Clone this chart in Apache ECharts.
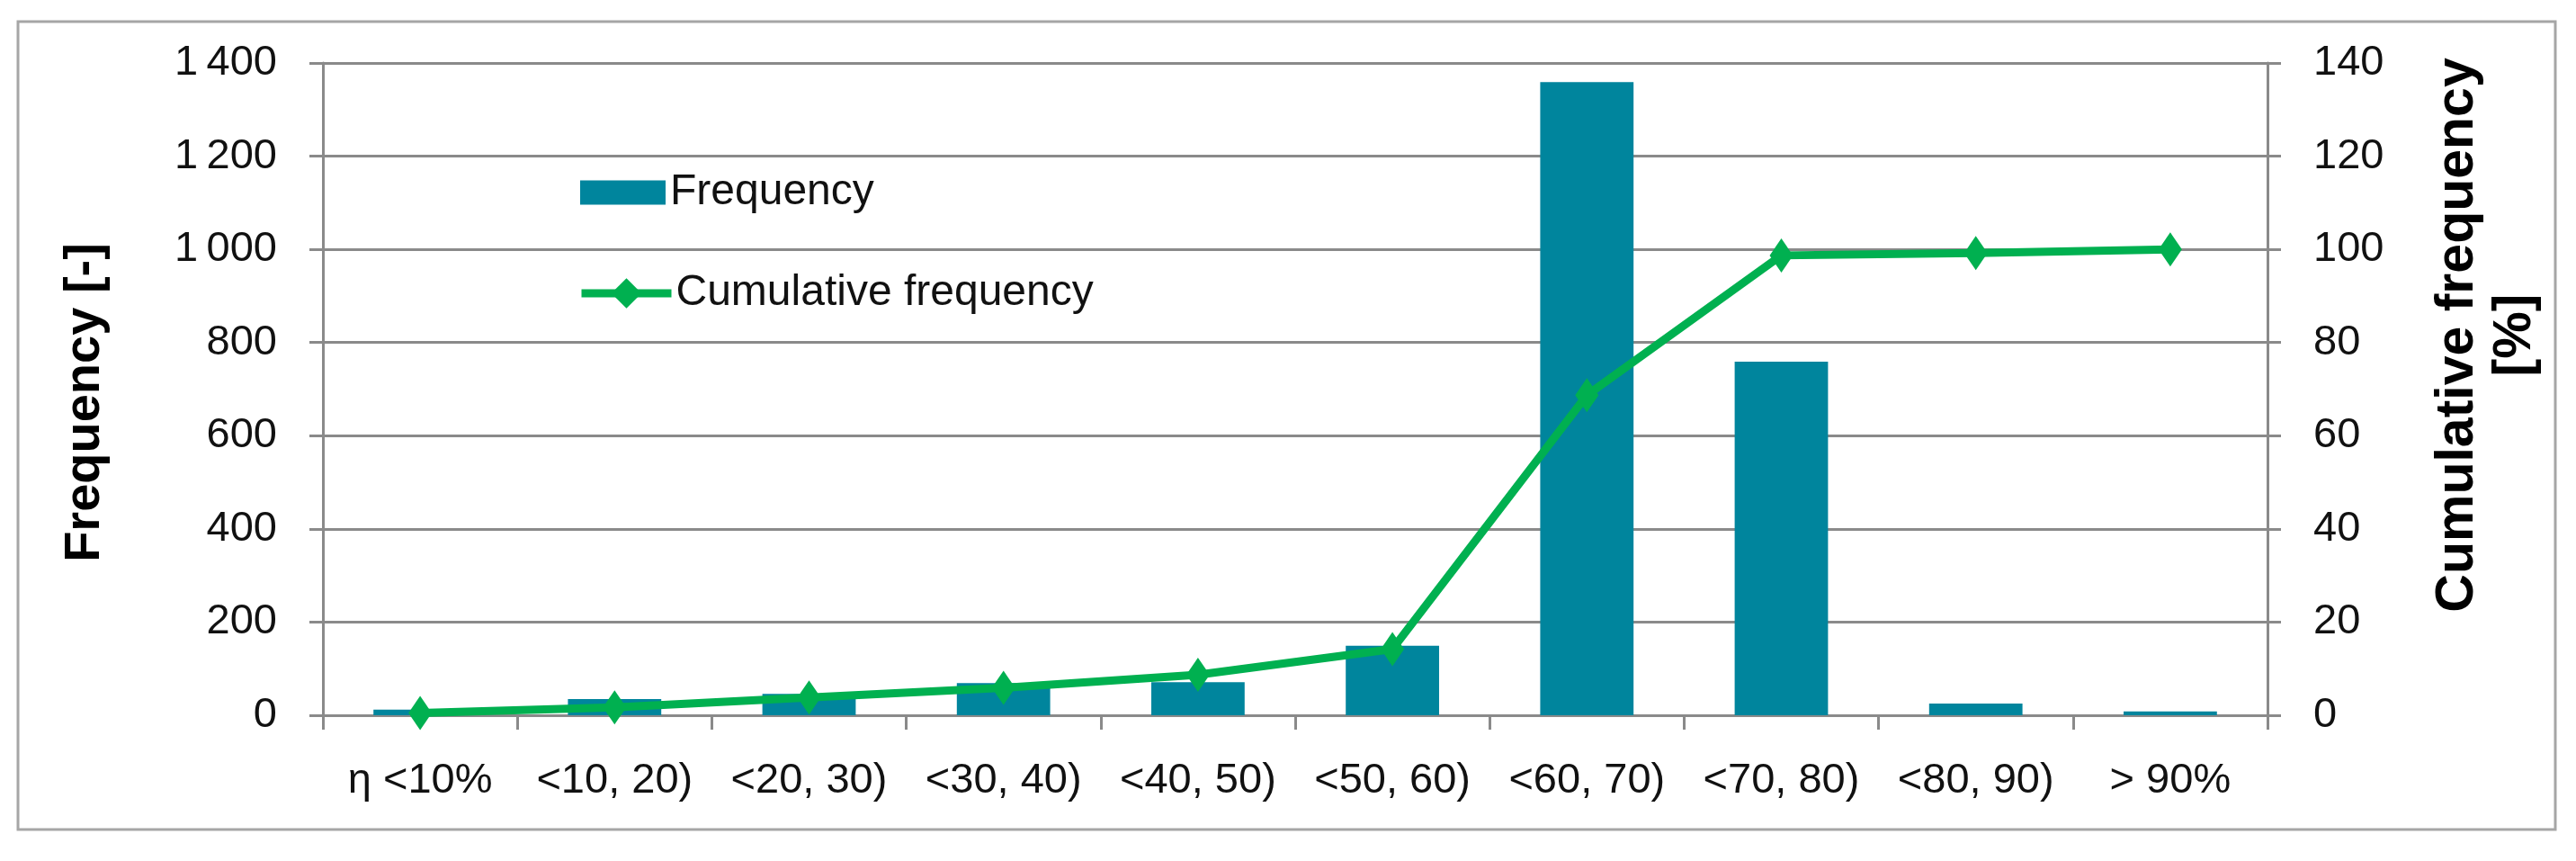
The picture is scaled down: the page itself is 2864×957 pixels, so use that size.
<!DOCTYPE html>
<html>
<head>
<meta charset="utf-8">
<script src="https://cdn.jsdelivr.net/npm/echarts@6/dist/echarts.min.js"></script>
<style>
html,body{margin:0;padding:0;background:#fff;}
#chart{width:2864px;height:957px;}
</style>
</head>
<body>
<div id="chart"></div>
<script>
const categories = ['η <10%', '<10, 20)', '<20, 30)', '<30, 40)', '<40, 50)', '<50, 60)', '<60, 70)', '<70, 80)', '<80, 90)', '> 90%'];
const frequency = [12, 35, 46, 69, 71, 149, 1359, 759, 25, 8];
const cumulative = [0.5, 1.7, 3.8, 5.9, 8.7, 14.2, 68.7, 98.7, 99.2, 100];
const leftTicks = {min: 0, max: 1400, interval: 200};
const rightTicks = {min: 0, max: 140, interval: 20};

const FONT = "'Liberation Sans', Arial, sans-serif";
const GRID = '#8a8a8a';

const chart = echarts.init(document.getElementById('chart'), null, {renderer: 'canvas'});
chart.setOption({
  animation: false,
  backgroundColor: '#ffffff',
  graphic: [{
    type: 'rect',
    shape: {x: 20, y: 24, width: 2821, height: 898},
    style: {fill: 'none', stroke: '#a6a6a6', lineWidth: 3},
    silent: true
  }],
  grid: {left: 359, right: 343, top: 70, bottom: 162, containLabel: false},
  legend: [{
    data: ['Frequency'],
    left: 640, top: 185,
    icon: 'rect',
    itemWidth: 95, itemHeight: 27,
    textStyle: {fontFamily: FONT, fontSize: 48, color: '#111'}
  }, {
    data: ['Cumulative frequency'],
    left: 637, top: 297,
    itemWidth: 100, itemHeight: 42,
    lineStyle: {width: 9, color: '#00B050'},
    textStyle: {fontFamily: FONT, fontSize: 48, color: '#111'}
  }],
  xAxis: {
    type: 'category',
    data: categories,
    boundaryGap: true,
    axisLine: {show: true, lineStyle: {color: GRID, width: 3}},
    axisTick: {show: true, inside: false, length: 16, alignWithLabel: false, lineStyle: {color: GRID, width: 3}},
    axisLabel: {fontFamily: FONT, fontSize: 47, color: '#111', margin: 50, interval: 0},
    splitLine: {show: false}
  },
  yAxis: [{
    type: 'value',
    min: leftTicks.min, max: leftTicks.max, interval: leftTicks.interval,
    position: 'left',
    name: 'Frequency [-]',
    nameLocation: 'middle',
    nameRotate: 90,
    nameGap: 236,
    nameTextStyle: {fontFamily: FONT, fontSize: 56, fontWeight: 'bold', color: '#000', padding: [0, 30, 0, 0]},
    axisLine: {show: true, lineStyle: {color: GRID, width: 3}},
    axisTick: {show: true, length: 15, lineStyle: {color: GRID, width: 3}},
    axisLabel: {
      fontFamily: FONT, fontSize: 47, color: '#111', margin: 51,
      formatter: v => v >= 1000 ? String(v).replace(/\B(?=(\d{3})+$)/g, '\u2009') : String(v)
    },
    splitLine: {show: true, lineStyle: {color: GRID, width: 3}}
  }, {
    type: 'value',
    min: rightTicks.min, max: rightTicks.max, interval: rightTicks.interval,
    position: 'right',
    name: 'Cumulative frequency\n[%]',
    nameLocation: 'middle',
    nameRotate: 90,
    nameGap: 180,
    nameTextStyle: {fontFamily: FONT, fontSize: 59, fontWeight: 'bold', color: '#000', lineHeight: 64, align: 'center', padding: [0, 0, 0, 120]},
    axisLine: {show: true, lineStyle: {color: GRID, width: 3}},
    axisTick: {show: true, length: 15, lineStyle: {color: GRID, width: 3}},
    axisLabel: {fontFamily: FONT, fontSize: 47, color: '#111', margin: 51},
    splitLine: {show: false}
  }],
  series: [{
    name: 'Frequency',
    type: 'bar',
    yAxisIndex: 0,
    data: frequency,
    barWidth: '48%',
    itemStyle: {color: '#00859D'},
    z: 2
  }, {
    name: 'Cumulative frequency',
    type: 'line',
    yAxisIndex: 1,
    data: cumulative,
    symbol: 'diamond',
    symbolSize: [26, 38],
    lineStyle: {color: '#00B050', width: 9},
    itemStyle: {color: '#00B050'},
    z: 3
  }]
});
</script>
</body>
</html>
